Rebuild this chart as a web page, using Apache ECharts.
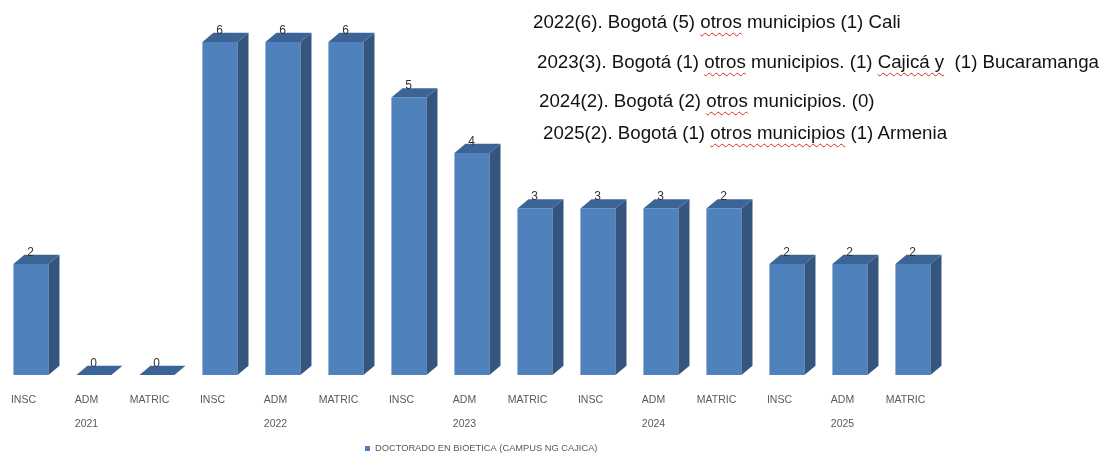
<!DOCTYPE html>
<html>
<head>
<meta charset="utf-8">
<script src="https://cdn.jsdelivr.net/npm/echarts@6/dist/echarts.min.js"></script>
<style>
  html, body { margin: 0; padding: 0; background: #fff; }
  #wrap { position: relative; width: 1103px; height: 455px; overflow: hidden; }
  #chart { position: absolute; left: -8px; top: 0; width: 1111px; height: 455px; }
  .note { position: absolute; font-family: "Liberation Sans", Arial, sans-serif; font-size: 18.7px; line-height: 19px; color: #111; white-space: pre; }
  .sp { text-decoration: underline wavy #e02828; text-decoration-thickness: 1px; text-underline-offset: 4px; }
</style>
</head>
<body>
<div id="wrap">
  <div id="chart"></div>
  <div class="note" style="left:533px; top:12px;">2022(6). Bogotá (5) <span class="sp">otros</span> municipios (1) Cali</div>
  <div class="note" style="left:537px; top:52px;">2023(3). Bogotá (1) <span class="sp">otros</span> municipios. (1) <span class="sp">Cajicá y</span>  (1) Bucaramanga</div>
  <div class="note" style="left:539px; top:91px;">2024(2). Bogotá (2) <span class="sp">otros</span> municipios. (0)</div>
  <div class="note" style="left:543px; top:123px;">2025(2). Bogotá (1) <span class="sp">otros municipios</span> (1) Armenia</div>
</div>
<script>
// ---- data ----
const categories = ['INSC','ADM','MATRIC','INSC','ADM','MATRIC','INSC','ADM','MATRIC','INSC','ADM','MATRIC','INSC','ADM','MATRIC'];
const years = ['2021','2022','2023','2024','2025'];
const barHeights = [2, 0, 0, 6, 6, 6, 5, 4, 3, 3, 3, 3, 2, 2, 2];
const barLabels  = [2, 0, 0, 6, 6, 6, 5, 4, 3, 3, 3, 2, 2, 2, 2];
const seriesName = 'DOCTORADO EN BIOETICA (CAMPUS NG CAJICA)';

const FRONT = '#4F81BD', SIDE = '#33557E', TOP = '#3D6496';

const chart = echarts.init(document.getElementById('chart'), null, { renderer: 'canvas' });

function renderItem(params, api) {
  const idx = api.value(0);
  const v = api.value(1);
  const lab = api.value(2);
  const base = api.coord([idx, 0]);
  const top = api.coord([idx, v]);
  const bw = api.size([1, 0])[0];
  const c = base[0];
  const x0 = c - bw * 0.16;
  const x1 = x0 + bw * 0.556;
  const dx = bw * 0.175, dy = bw * 0.145;
  const yb = base[1], yt = top[1];
  const children = [];
  if (yb - yt > 0.5) {
    children.push({ type: 'rect', shape: { x: x0, y: yt, width: x1 - x0, height: yb - yt }, style: { fill: FRONT } });
    children.push({ type: 'polygon', shape: { points: [[x1, yt], [x1 + dx, yt - dy], [x1 + dx, yb - dy], [x1, yb]] }, style: { fill: SIDE } });
  }
  children.push({ type: 'polygon', shape: { points: [[x0, yt], [x0 + dx, yt - dy], [x1 + dx, yt - dy], [x1, yt]] }, style: { fill: TOP } });
  children.push({
    type: 'text',
    style: { text: String(lab), x: c + 7, y: yt - 11.5, align: 'center', verticalAlign: 'middle',
             fill: '#333', font: '12px "Liberation Sans", Arial, sans-serif' }
  });
  return { type: 'group', children };
}

chart.setOption({
  animation: false,
  backgroundColor: '#fff',
  grid: { left: 0, width: 945, top: 42, bottom: 80 },
  legend: {
    data: [seriesName], left: 373, top: 444, padding: 0,
    icon: 'rect', itemWidth: 5, itemHeight: 5, itemGap: 5,
    textStyle: { fontSize: 9.3, color: '#595959', fontFamily: '"Liberation Sans", Arial, sans-serif' }
  },
  xAxis: [
    {
      type: 'category', data: categories, position: 'bottom',
      axisLine: { show: false }, axisTick: { show: false },
      axisLabel: { interval: 0, margin: 20, fontSize: 10.5, color: '#595959', fontFamily: '"Liberation Sans", Arial, sans-serif' }
    },
    {
      type: 'category', data: years, position: 'bottom', gridIndex: 0,
      axisLine: { show: false }, axisTick: { show: false },
      axisLabel: { interval: 0, margin: 44, fontSize: 10.5, color: '#595959', fontFamily: '"Liberation Sans", Arial, sans-serif' }
    }
  ],
  yAxis: { type: 'value', min: 0, max: 6, show: false, splitLine: { show: false } },
  series: [{
    name: seriesName,
    type: 'custom',
    xAxisIndex: 0,
    itemStyle: { color: FRONT },
    renderItem: renderItem,
    encode: { x: 0, y: 1 },
    data: barHeights.map((v, i) => [i, v, barLabels[i]])
  }]
});
</script>
</body>
</html>
